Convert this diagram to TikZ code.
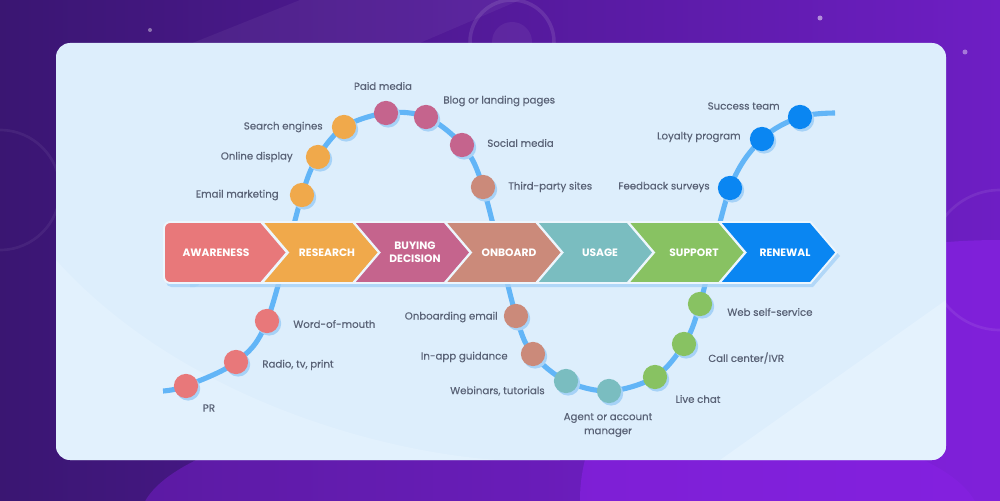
\documentclass[tikz,border=0pt]{standalone}
\usepackage{fontspec}
\setmainfont{Poppins}
\newfontfamily\lblfont[FakeBold=0.35]{Poppins}
\usetikzlibrary{shadows}
\definecolor{bgL}{HTML}{3A1672}
\definecolor{bgR}{HTML}{6E1EC4}
\definecolor{bgGlow}{HTML}{8E22EC}
\definecolor{card}{HTML}{DDEEFC}
\definecolor{cardHi}{HTML}{E6F3FE}
\definecolor{curve}{HTML}{62B5F7}
\definecolor{shad}{HTML}{A6D2F7}
\definecolor{lblc}{HTML}{596276}
\definecolor{cAw}{HTML}{E8787A}
\definecolor{cRe}{HTML}{F0A94B}
\definecolor{cBu}{HTML}{C5648D}
\definecolor{cOn}{HTML}{CB8A7A}
\definecolor{cUs}{HTML}{7ABDC0}
\definecolor{cSu}{HTML}{88C262}
\definecolor{cRn}{HTML}{0A86F2}
\pgfdeclarelayer{bg}
\pgfsetlayers{bg,main}
\tikzset{
  dot/.style={circle, inner sep=0pt, minimum size=13.8pt,
    general shadow={fill=shad, shadow xshift=1.2pt, shadow yshift=-1.4pt}},
  lbl/.style={text=lblc, font=\lblfont\fontsize{5.8}{7}\selectfont, inner sep=0pt},
  stagetext/.style={text=white, font=\fontsize{6.1}{7.6}\selectfont\bfseries, align=center, inner sep=0pt},
  chev/.style={draw=white!80!shad, line width=1.1pt},
}
\begin{document}
\begin{tikzpicture}[x=0.02cm,y=-0.02cm]
\useasboundingbox (0,0) rectangle (1000,500);
% ---------- dots ----------
\node[dot, fill=cAw] (pr) at (186,386) {};
\node[dot, fill=cAw] (radio) at (236,362) {};
\node[dot, fill=cAw] (word) at (267,321) {};
\node[dot, fill=cRe] (email) at (302,195) {};
\node[dot, fill=cRe] (online) at (318,157) {};
\node[dot, fill=cRe] (search) at (344,127) {};
\node[dot, fill=cBu] (paid) at (386,113) {};
\node[dot, fill=cBu] (blog) at (426,117) {};
\node[dot, fill=cBu] (social) at (462,145) {};
\node[dot, fill=cOn] (third) at (483,187) {};
\node[dot, fill=cOn] (onbemail) at (516,316) {};
\node[dot, fill=cOn] (inapp) at (533,354) {};
\node[dot, fill=cUs] (webinar) at (566,381) {};
\node[dot, fill=cUs] (agent) at (609,391) {};
\node[dot, fill=cSu] (chat) at (655,377) {};
\node[dot, fill=cSu] (call) at (684,344) {};
\node[dot, fill=cSu] (webself) at (700,304) {};
\node[dot, fill=cRn] (feedback) at (730,188) {};
\node[dot, fill=cRn] (loyalty) at (762,139) {};
\node[dot, fill=cRn] (success) at (800,117) {};
\coordinate (cstart) at (163,391);
\coordinate (cend) at (835,113);
% ---------- labels ----------
\node[lbl] (tPR) at (209,408) {PR};
\node[lbl, anchor=west] (tRadio) at (262,365) {Radio, tv, print};
\node[lbl, anchor=west] (tWord) at (293,324) {Word-of-mouth};
\node[lbl, anchor=east] (tEmail) at (279,195) {Email marketing};
\node[lbl, anchor=east] (tOnline) at (293,157) {Online display};
\node[lbl, anchor=east] (tSearch) at (323,127) {Search engines};
\node[lbl] (tPaid) at (383,86) {Paid media};
\node[lbl, anchor=west] (tBlog) at (443,101) {Blog or landing pages};
\node[lbl, anchor=west] (tSocial) at (487,143) {Social media};
\node[lbl, anchor=west] (tThird) at (508,187) {Third-party sites};
\node[lbl, anchor=east] (tOnb) at (498,317) {Onboarding email};
\node[lbl, anchor=east] (tInapp) at (508,357) {In-app guidance};
\node[lbl, anchor=east] (tWeb) at (545,391) {Webinars, tutorials};
\node[lbl, align=center] (tAgent) at (608,425) {Agent or account\\[1pt]manager};
\node[lbl] (tChat) at (698,399) {Live chat};
\node[lbl, anchor=west] (tCall) at (708,358) {Call center/IVR};
\node[lbl, anchor=west] (tWebself) at (727,312) {Web self-service};
\node[lbl, anchor=east] (tFeed) at (710,187) {Feedback surveys};
\node[lbl, anchor=east] (tLoyal) at (741,137) {Loyalty program};
\node[lbl, anchor=east] (tSucc) at (780,106) {Success team};
% ---------- stage texts ----------
\node[stagetext] (sAw) at (216,252.5) {AWARENESS};
\node[stagetext] (sRe) at (327,252.5) {RESEARCH};
\node[stagetext] (sBu) at (415,252.5) {BUYING\\DECISION};
\node[stagetext] (sOn) at (509,252.5) {ONBOARD};
\node[stagetext] (sUs) at (600,252.5) {USAGE};
\node[stagetext] (sSu) at (694,252.5) {SUPPORT};
\node[stagetext] (sRn) at (785,252.5) {RENEWAL};
\begin{pgfonlayer}{bg}
% background
\shade[left color=bgL, right color=bgR] (0,0) rectangle (1000,500);
\fill[bgGlow, opacity=0.55] (1000,500) ellipse [x radius=420, y radius=260];
\fill[bgGlow, opacity=0.35] (560,520) ellipse [x radius=420, y radius=120];
\fill[white, opacity=0.05] (150,60) -- (300,0) -- (520,0) -- (380,60) -- cycle;
\draw[white, opacity=0.10, line width=2pt] (512,42) circle [radius=42];
\fill[white, opacity=0.06] (512,42) circle [radius=20];
\draw[white, opacity=0.08, line width=1.5pt] (1000,260) circle [radius=70];
\draw[white, opacity=0.06, line width=1.5pt] (0,190) circle [radius=60];
\fill[white, opacity=0.5] (820,18) circle [radius=2.5];
\fill[white, opacity=0.4] (150,30) circle [radius=2];
\fill[white, opacity=0.4] (965,52) circle [radius=2.5];
% card
\fill[card, rounded corners=8pt] (56,43) rectangle (946,460);
\begin{scope}
\clip[rounded corners=8pt] (56,43) rectangle (946,460);
\fill[cardHi, opacity=0.8] (720,460) -- (946,300) -- (946,460) -- cycle;
\fill[cardHi, opacity=0.6] (56,260) .. controls (200,420) and (450,470) .. (560,460) -- (56,460) -- cycle;
\end{scope}
% curve
\draw[curve, line width=2.9pt] plot[smooth, tension=0.55] coordinates {
 (cstart) (pr.center) (radio.center) (word.center) (email.center) (online.center)
 (search.center) (paid.center) (blog.center) (social.center) (third.center)
 (onbemail.center) (inapp.center) (webinar.center) (agent.center) (chat.center)
 (call.center) (webself.center) (feedback.center) (loyalty.center) (success.center) (cend)};
% chevron band shadow
\fill[shad, opacity=0.8, rounded corners=3pt] (166,225) rectangle (200,287);
\fill[shad, opacity=0.8] (190,225) -- (813,225) -- (840,256) -- (813,287) -- (190,287) -- cycle;
% chevrons
\draw[chev, fill=cAw] [rounded corners=3.5pt] (212,222) -- (164,222) -- (164,283) -- (212,283) [sharp corners] -- (261,283) -- (287,252.5) -- (261,222) -- cycle;
\foreach \L/\c in {262/cRe, 353.5/cBu, 445/cOn, 536.5/cUs, 628/cSu, 719.5/cRn}{
  \draw[chev, fill=\c] (\L,222) -- ({\L+91},222) -- ({\L+117},252.5) -- ({\L+91},283) -- (\L,283) -- ({\L+26},252.5) -- cycle;
}
\end{pgfonlayer}
\end{tikzpicture}
\end{document}
